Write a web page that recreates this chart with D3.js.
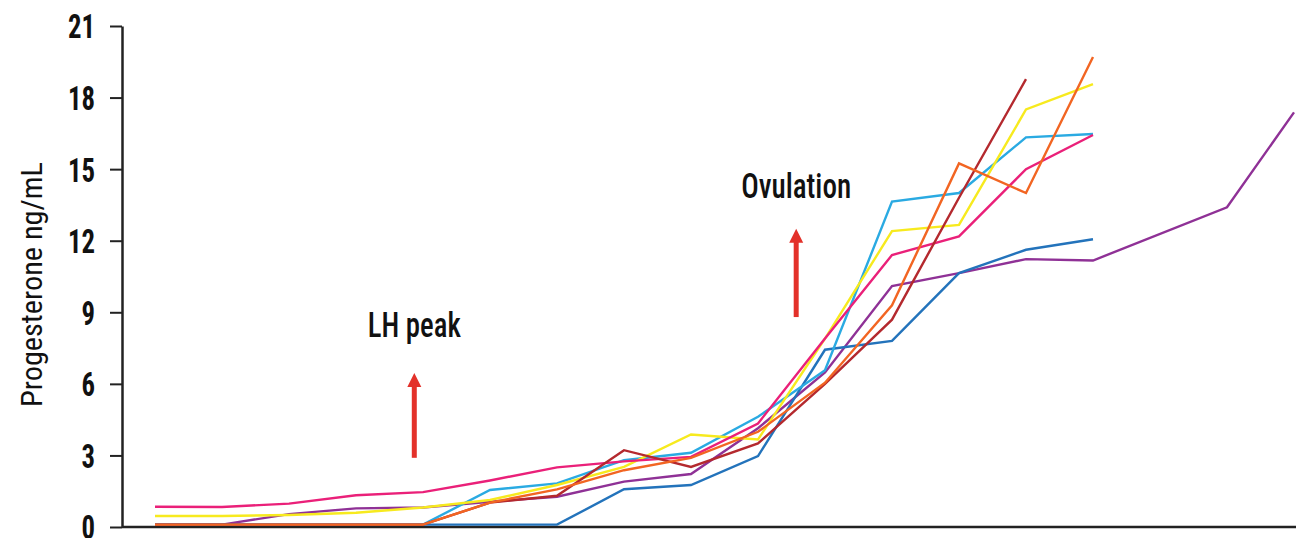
<!DOCTYPE html>
<html>
<head>
<meta charset="utf-8">
<script src="https://cdn.jsdelivr.net/npm/d3@7"></script>
<style>
  body { margin: 0; background: #fff; }
  svg { display: block; }
</style>
</head>
<body>
<div id="chart"></div>
<script>
// day index along x (no labels on the axis)
const days = d3.range(18)
const yTicks = [0, 3, 6, 9, 12, 15, 18, 21]

// progesterone values, ng/mL (null = no sample that day)
const pink      = [0.85, 0.84, 0.98, 1.33, 1.46, 1.95, 2.5, 2.75, 2.94, 4.34, 7.9, 11.4, 12.18, 15.0, 16.43, null, null, null]
const yellow    = [0.46, 0.46, 0.5, 0.6, 0.82, 1.13, 1.76, 2.52, 3.88, 3.67, 7.9, 12.4, 12.66, 17.5, 18.56, null, null, null]
const purple    = [0.1, 0.1, 0.54, 0.78, 0.82, 1.06, 1.27, 1.9, 2.22, 4.14, 6.48, 10.1, 10.64, 11.23, 11.17, null, 13.4, 17.38]
const darkBlue  = [0.1, 0.1, 0.1, 0.1, 0.1, 0.1, 0.1, 1.58, 1.76, 2.97, 7.43, 7.8, 10.64, 11.62, 12.06, null, null, null]
const lightBlue = [0.1, 0.1, 0.1, 0.1, 0.1, 1.55, 1.83, 2.8, 3.11, 4.62, 6.57, 13.64, 14.0, 16.33, 16.47, null, null, null]
const darkRed   = [0.1, 0.1, 0.1, 0.1, 0.1, 1.02, 1.31, 3.22, 2.52, 3.5, 6.0, 8.69, 13.8, 18.77, null, null, null, null]
const orange    = [0.1, 0.1, 0.1, 0.1, 0.1, 1.02, 1.58, 2.38, 2.9, 3.99, 6.05, 9.29, 15.24, 14.0, 19.7, null, null, null]

const series = [
    {values: purple, color: "#8f3196"},
    {values: darkBlue, color: "#2373bb"},
    {values: lightBlue, color: "#2aaae2"},
    {values: yellow, color: "#f7ea1e"},
    {values: pink, color: "#ea2079"},
    {values: darkRed, color: "#b4292e"},
    {values: orange, color: "#f26522"}
]

// annotations: label + arrow (day, value coords)
const notes = [
    {text: "LH peak", x: 3.87, textY: 7.95, from: 2.9, to: 6.45, textWidth: 93},
    {text: "Ovulation", x: 9.57, textY: 13.8, from: 8.8, to: 12.5, textWidth: 110}
]

const width = 1296,
    height = 538,
    marginTop = 26,
    marginBottom = 11,
    marginLeft = 122,
    font = "'Liberation Sans Narrow', 'Roboto Condensed', 'DejaVu Sans Condensed', Roboto, sans-serif"

const xScale = d3.scaleLinear([0, 17], [155, 1294])
const yScale = d3.scaleLinear([0, 21], [height - marginBottom, marginTop])

const svg = d3.select("#chart")
    .append("svg")
    .attr("width", width)
    .attr("height", height)
    .attr("viewBox", [0, 0, width, height])

// x baseline
svg.append("line")
    .attr("x1", marginLeft)
    .attr("x2", width)
    .attr("y1", yScale(0))
    .attr("y2", yScale(0))
    .attr("stroke", "#222")
    .attr("stroke-width", 2.5)

// y axis
svg.append("g")
    .attr("transform", `translate(${marginLeft},0)`)
    .call(d3.axisLeft(yScale).tickValues(yTicks).tickSize(12).tickSizeOuter(0).tickPadding(15))
    .call(g => g.select(".domain").attr("stroke", "#222").attr("stroke-width", 2.5))
    .call(g => g.selectAll(".tick line").attr("stroke", "#222").attr("stroke-width", 2))
    .call(g => g.selectAll(".tick text")
        .attr("fill", "#111")
        .attr("font-family", font)
        .attr("font-weight", "bold")
        .attr("font-size", 33)
        .attr("dy", "0.36em")
        .attr("textLength", d => String(d).length * 13.5)
        .attr("lengthAdjust", "spacingAndGlyphs"))

svg.append("text")
    .attr("transform", `translate(42,${(yScale(21) + yScale(0)) / 2 + 8}) rotate(-90)`)
    .attr("text-anchor", "middle")
    .attr("font-family", font)
    .attr("font-size", 29)
    .attr("fill", "#111")
    .attr("textLength", 245)
    .attr("lengthAdjust", "spacingAndGlyphs")
    .text("Progesterone ng/mL")

// lines
const line = d3.line()
    .x(d => xScale(d[0]))
    .y(d => yScale(d[1]))

svg.append("g")
    .attr("fill", "none")
    .attr("stroke-width", 2.4)
    .attr("stroke-linejoin", "miter")
    .selectAll("path")
    .data(series)
    .join("path")
    .attr("stroke", s => s.color)
    .attr("d", s => line(days.map(d => [d, s.values[d]]).filter(p => p[1] != null)))

// annotations
const ann = svg.append("g")

ann.selectAll("text")
    .data(notes)
    .join("text")
    .attr("x", d => xScale(d.x))
    .attr("y", d => yScale(d.textY))
    .attr("text-anchor", "middle")
    .attr("font-family", font)
    .attr("font-weight", 500)
    .attr("font-size", 35)
    .attr("fill", "#111")
    .attr("textLength", d => d.textWidth)
    .attr("lengthAdjust", "spacingAndGlyphs")
    .text(d => d.text)

ann.selectAll("line")
    .data(notes)
    .join("line")
    .attr("x1", d => xScale(d.x))
    .attr("x2", d => xScale(d.x))
    .attr("y1", d => yScale(d.from))
    .attr("y2", d => yScale(d.to) + 12)
    .attr("stroke", "#e3312a")
    .attr("stroke-width", 5)

ann.selectAll("path")
    .data(notes)
    .join("path")
    .attr("fill", "#e3312a")
    .attr("d", d => {
        const x = xScale(d.x), y = yScale(d.to)
        return `M${x},${y}L${x + 7},${y + 14}L${x - 7},${y + 14}Z`
    })
</script>
</body>
</html>
